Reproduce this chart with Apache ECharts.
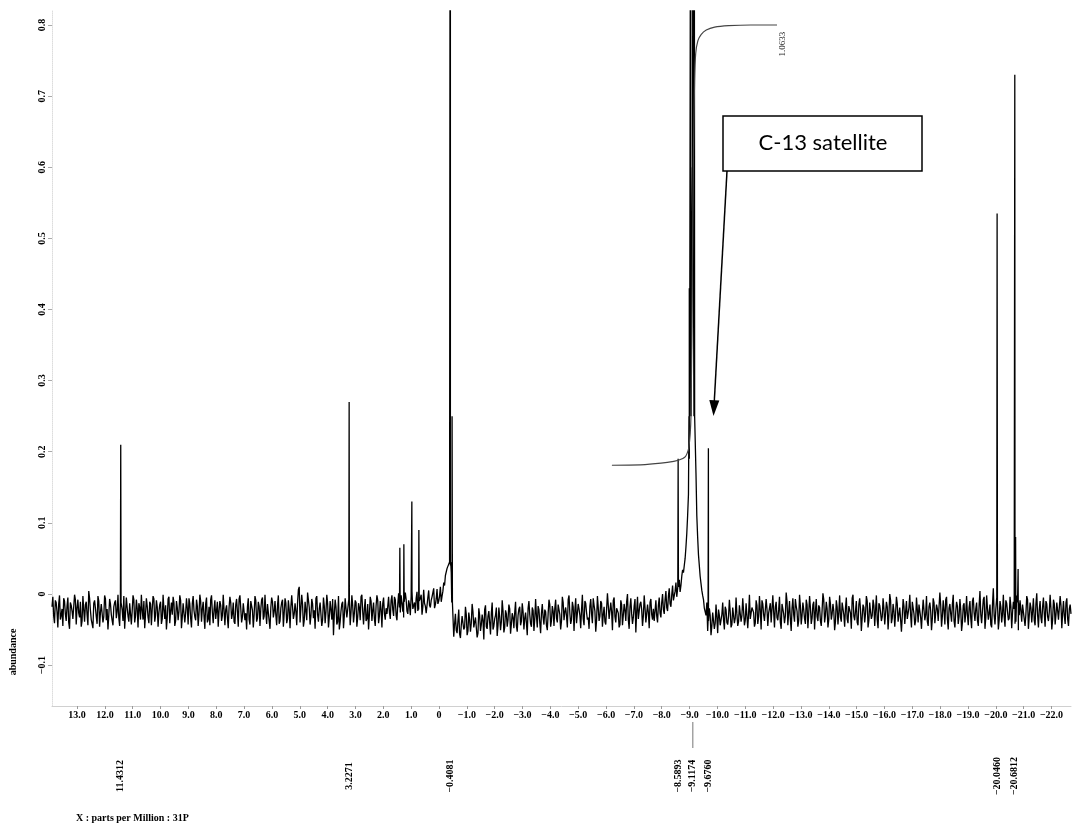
<!DOCTYPE html>
<html><head><meta charset="utf-8">
<script src="https://cdn.jsdelivr.net/npm/echarts@6/dist/echarts.min.js"></script>
<style>html,body{margin:0;padding:0;background:#fff}#c{width:1073px;height:825px}</style>
</head><body><div id="c"></div>
<script>
// ---- data ----
const baselineStartPpm = 13.9;
const baselineStepPpm = 0.06;
// abundance on the grid 13.9, 13.84, ... , -22.7
const baselineAbundance = [
-.018,-.031,-.009,-.025,-.014,-.036,-.021,-.006,-.028,-.017,-.040,-.012,-.024,-.033,-.008,-.019,-.027,-.011,-.038,-.022,
-.015,-.029,.004,-.023,-.035,-.013,-.020,-.042,-.010,-.026,-.016,-.032,-.007,-.021,-.030,-.014,-.037,-.018,-.009,-.025,
-.034,-.012,-.022,-.003,-.027,-.019,-.039,-.015,-.024,-.008,-.031,-.020,-.013,-.036,-.023,-.010,-.028,-.017,-.041,-.014,
-.021,-.007,-.030,-.018,-.026,-.011,-.035,-.022,-.016,-.033,-.004,-.024,-.029,-.012,-.038,-.019,-.025,-.009,-.032,-.015,
-.027,-.020,-.006,-.034,-.013,-.023,-.037,-.017,-.028,-.010,-.021,-.031,-.014,-.040,-.018,-.008,-.026,-.022,-.035,-.011,
-.024,-.016,-.030,-.002,-.022,-.033,-.019,-.012,-.028,-.039,-.015,-.025,-.007,-.020,-.032,-.013,-.027,-.018,-.036,-.010,
-.023,-.029,-.009,-.034,-.017,-.021,-.005,-.031,-.026,-.014,-.038,-.019,-.011,-.025,-.030,-.016,-.042,-.020,-.008,-.027,
-.013,-.035,-.022,-.018,-.001,-.028,-.024,-.012,.010,-.020,-.015,-.037,-.009,.002,-.019,-.031,-.014,-.023,-.006,-.029,
-.021,-.010,-.036,-.017,-.025,-.013,-.032,-.022,-.007,-.028,-.018,-.039,-.050,-.024,-.011,-.030,-.020,-.034,-.008,-.026,
-.016,-.027,-.012,-.033,-.019,-.004,-.025,-.021,-.038,-.014,-.029,-.010,-.023,-.035,-.017,-.009,-.031,-.022,-.013,-.028,
-.020,
-.017,-.026,-.009,-.022,-.004,-.030,-.014,-.019,-.002,-.025,-.011,-.008,-.028,-.015,-.003,-.021,-.012,-.006,-.024,-.010,
-.001,-.018,-.013,-.027,-.005,-.016,-.009,.002,-.020,-.007,-.014,-.003,-.011,.004,.012,.024,.038,
.045,.030,-.012,
-.042,-.051,-.038,-.056,-.044,-.033,-.047,-.029,-.052,-.036,-.041,-.025,-.048,-.034,-.055,-.030,-.043,-.037,-.022,-.046,
-.031,-.040,-.027,-.050,-.035,-.019,-.044,-.032,-.039,-.024,-.047,-.028,-.036,-.021,-.042,-.033,-.026,-.045,-.030,-.018,
-.038,-.025,-.034,-.041,-.020,-.029,-.046,-.023,-.035,-.031,-.017,-.040,-.027,-.033,-.022,-.044,-.028,-.015,-.037,-.024,
-.020,-.034,-.015,-.029,-.038,-.012,-.025,-.031,-.008,-.027,-.036,-.018,-.023,-.041,-.014,-.030,-.022,-.035,-.010,-.026,
-.033,-.017,-.028,-.006,-.024,-.037,-.019,-.031,-.013,-.029,-.039,-.021,-.016,-.034,-.025,-.009,-.032,-.020,-.027,-.043,
-.015,-.030,-.023,-.011,-.036,-.018,-.028,-.033,-.007,-.025,-.035,-.014,-.022,-.031,-.019,-.040,-.026,-.012,-.029,-.021,
-.024,-.031,-.016,-.027,-.012,-.022,-.008,-.019,-.003,-.014,-.001,-.009,.004,-.004,.010,.003,.025,.030,.050,.085,.140,.250,.450,
.600,.250,.110,.055,.025,.005,-.008,-.018,-.012,
-.038,-.030,-.045,-.027,-.041,-.033,-.022,-.044,-.029,-.036,-.018,-.040,-.031,-.025,-.043,-.020,-.034,-.028,-.039,-.015,
-.030,-.024,-.037,-.012,-.028,-.035,-.019,-.026,-.041,-.016,-.032,-.023,-.009,-.029,-.036,-.021,-.027,-.013,-.038,-.025,
-.018,-.033,-.022,-.040,-.014,-.028,-.031,-.010,-.026,-.035,-.020,-.029,-.007,-.024,-.037,-.017,-.030,-.022,-.042,-.015,
-.027,-.019,-.034,-.011,-.025,-.032,-.016,-.038,-.023,-.008,-.030,-.021,-.036,-.014,-.028,-.024,-.039,-.018,-.026,-.033,
-.012,-.029,-.020,-.035,-.017,-.027,-.006,-.031,-.024,-.040,-.015,-.022,-.033,-.019,-.028,-.010,-.037,-.025,-.030,-.016,
-.023,-.036,-.013,-.026,-.032,-.020,-.041,-.018,-.029,-.009,-.034,-.024,-.027,-.014,-.038,-.021,-.031,-.017,-.025,-.035,
-.019,-.030,-.011,-.028,-.037,-.022,-.015,-.033,-.026,-.007,-.029,-.039,-.018,-.024,-.034,-.012,-.027,-.021,-.036,-.016,
-.031,-.023,-.008,-.035,-.020,-.028,-.014,-.038,-.025,-.017,-.032,-.022,-.040,-.013,-.027,-.030,-.019,-.034,-.010,-.026,
-.021,-.037,-.016,-.029,-.024,-.004,-.033,-.020,-.027,-.043,-.015,-.030,-.022,-.011,-.036,-.018,-.028,-.032,-.009,-.025,
-.034,-.017,-.026,-.021,-.039,-.012,-.030,-.023,-.015,-.035,-.028,-.008,-.031,-.019,-.024,-.037,-.014,-.029,-.022,-.033,
-.018,-.027,-.010,-.032,-.025,-.020,-.036,-.014,-.029,-.023,-.038,-.016,-.026,-.031,-.012,-.035,-.021,-.028
];
// abundance half-way between those grid points (13.87, 13.81, ... , -22.67)
const midAbundance = [
-.004,-.041,-.012,-.047,-.002,-.030,-.045,-.010,-.038,-.005,-.049,-.016,-.035,-.001,-.043,-.008,-.033,-.046,-.003,-.039,
-.011,-.044,-.006,-.036,-.048,-.009,-.032,-.003,-.046,-.014,-.040,-.002,-.037,-.050,-.007,-.029,-.044,-.012,-.034,-.001,
-.045,-.010,-.038,-.049,-.005,-.031,-.013,-.043,-.002,-.040,-.008,-.047,-.019,-.001,-.036,-.048,-.006,-.033,-.011,-.044,
-.003,-.039,-.009,-.046,-.015,-.042,-.001,-.035,-.050,-.007,-.041,-.012,-.004,-.045,-.010,-.037,-.002,-.048,-.013,-.040,
-.006,-.043,-.014,-.047,-.003,-.032,-.008,-.045,-.001,-.039,-.011,-.049,-.005,-.036,-.044,-.002,-.041,-.009,-.034,-.046,
-.010,-.038,-.001,-.044,-.016,-.048,-.004,-.035,-.012,-.042,-.007,-.046,-.002,-.040,-.013,-.037,-.050,-.006,-.043,-.009,
-.047,-.003,-.039,-.011,-.045,-.008,-.036,-.001,-.042,-.014,-.049,-.005,-.033,-.010,-.044,-.002,-.038,-.012,-.046,-.006,
-.041,-.009,-.048,-.002,-.035,-.013,-.044,.006,-.040,-.001,-.046,-.011,-.037,.004,-.043,-.007,-.034,-.049,-.003,-.039,
-.012,-.045,-.005,-.041,-.001,-.047,-.010,-.036,-.058,-.008,-.043,-.003,-.039,-.014,-.048,-.006,-.033,-.011,-.044,-.002,
-.040,-.009,-.046,-.013,-.037,-.001,-.043,-.007,-.035,-.050,-.004,-.038,-.012,-.045,-.002,-.041,-.010,-.047,-.005,-.036,
-.028,-.004,-.035,-.002,-.031,-.008,-.037,.001,-.026,-.012,-.033,.002,-.024,-.009,-.030,.004,-.020,-.027,.003,-.022,
-.006,-.029,.006,-.017,-.025,.005,-.019,-.004,.008,-.015,.007,-.010,.010,-.003,.016,.026,.036,
.042,.040,.005,
-.060,-.028,-.055,-.022,-.062,-.031,-.050,-.018,-.058,-.026,-.053,-.014,-.047,-.033,-.061,-.020,-.052,-.029,-.064,-.016,
-.049,-.024,-.057,-.012,-.045,-.030,-.059,-.019,-.051,-.009,-.054,-.023,-.046,-.015,-.056,-.027,-.048,-.011,-.053,-.021,
-.044,-.013,-.050,-.026,-.058,-.010,-.042,-.019,-.052,-.007,-.047,-.022,-.055,-.014,-.043,-.025,-.051,-.008,-.046,-.017,
-.045,-.008,-.040,-.015,-.050,-.004,-.037,-.019,-.047,-.002,-.042,-.011,-.052,-.006,-.039,-.021,-.048,-.001,-.044,-.013,
-.036,-.049,-.007,-.041,-.016,-.053,-.003,-.038,-.010,-.046,-.018,-.043,.001,-.035,-.012,-.051,-.005,-.040,-.020,-.047,
-.009,-.044,-.014,-.038,.000,-.049,-.006,-.042,-.017,-.054,-.004,-.037,-.011,-.045,-.002,-.040,-.015,-.048,-.007,-.036,
-.038,-.009,-.040,-.005,-.033,.000,-.028,.004,-.024,.008,-.018,.012,-.010,.016,-.002,.020,.012,.034,.040,.066,.110,.190,.330,
.540,.400,.170,.080,.040,.015,-.002,-.020,-.030,
-.052,-.020,-.058,-.026,-.049,-.015,-.055,-.030,-.046,-.012,-.050,-.022,-.043,-.008,-.047,-.019,-.041,-.005,-.045,-.016,
-.039,-.006,-.044,-.013,-.048,-.001,-.036,-.018,-.046,-.009,-.042,-.003,-.050,-.014,-.038,-.007,-.045,-.020,-.040,-.002,
-.047,-.011,-.037,-.004,-.049,-.016,-.041,.002,-.044,-.010,-.052,-.006,-.039,-.017,-.046,-.001,-.043,-.012,-.035,-.008,
-.048,-.003,-.042,-.015,-.050,-.007,-.038,-.019,-.045,.001,-.040,-.011,-.047,-.004,-.036,-.014,-.051,-.009,-.043,-.002,
-.039,-.013,-.046,-.005,-.041,-.018,-.049,-.001,-.037,-.010,-.044,-.006,-.052,-.015,-.040,-.003,-.047,-.012,-.035,-.008,
-.045,-.002,-.048,-.016,-.038,-.006,-.043,-.011,-.050,.000,-.041,-.014,-.046,-.004,-.039,-.019,-.053,-.007,-.042,-.010,
-.036,-.001,-.047,-.013,-.044,-.005,-.040,-.017,-.049,-.008,-.037,-.003,-.045,-.012,-.051,-.006,-.041,-.015,-.038,.002,
-.046,-.009,-.043,-.004,-.050,-.014,-.039,-.001,-.047,-.011,-.042,-.007,-.052,-.016,-.040,-.003,-.044,-.010,-.048,-.005,
-.038,-.012,-.045,.004,-.041,-.008,-.049,-.002,-.036,-.015,-.047,.008,-.043,-.006,-.050,-.010,-.040,-.001,-.046,-.013,
-.037,-.004,-.048,-.011,-.042,-.002,-.051,-.009,-.039,-.016,-.045,-.003,-.049,-.012,-.040,-.006,-.044,.001,-.047,-.010,
-.041,-.005,-.046,-.014,-.038,-.001,-.050,-.008,-.043,-.012,-.036,-.003,-.048,-.010,-.042,-.006,-.045,-.015
];
const peakPpm    = [11.4312, 3.2271, 1.406, 1.262, 0.975, 0.723, -0.4081, -0.47, -8.5893, -8.99, -9.04, -9.1174, -9.17, -9.6760, -20.0460, -20.6812, -20.71, -20.80];
const peakHeight = [0.21,    0.27,   0.065, 0.07,  0.13,  0.09,  1.6,     0.25,  0.19,    0.43,  1.2,   1.6,     1.1,   0.205,   0.535,    0.73,     0.08,   0.035];
const integralPpm   = [-6.21, -7.4, -8.2, -8.6, -8.85, -8.97, -9.05, -9.1, -9.14, -9.18, -9.22, -9.3, -9.42, -9.6, -9.9, -10.4, -11.2, -12.14];
const integralValue = [0.181, 0.182, 0.185, 0.188, 0.193, 0.205, 0.25, 0.45, 0.62, 0.72, 0.76, 0.778, 0.787, 0.793, 0.797, 0.799, 0.8, 0.8];
const integralLabel = '1.0633';
const xTickValues = [13,12,11,10,9,8,7,6,5,4,3,2,1,0,-1,-2,-3,-4,-5,-6,-7,-8,-9,-10,-11,-12,-13,-14,-15,-16,-17,-18,-19,-20,-21,-22];
const yTickValues = [-0.1,0,0.1,0.2,0.3,0.4,0.5,0.6,0.7,0.8];
const peakLabelPpm  = [11.4312, 3.2271, -0.4081, -8.5893, -9.1174, -9.6760, -20.0460, -20.6812];
const peakLabelText = ['11.4312','3.2271','\u22120.4081','\u22128.5893','\u22129.1174','\u22129.6760','\u221220.0460','\u221220.6812'];
const yAxisTitle = 'abundance';
const xAxisTitle = 'X : parts per Million : 31P';
const annotationText = 'C-13 satellite';

// ---- build spectrum ----
const spectrum = baselineAbundance.map((v, i) => [+(baselineStartPpm - i * baselineStepPpm).toFixed(4), v]);
midAbundance.forEach((v, j) => spectrum.push([+(baselineStartPpm - (j + 0.5) * baselineStepPpm).toFixed(4), v]));
peakPpm.forEach((p, k) => {
  let idx = Math.round((baselineStartPpm - p) / baselineStepPpm);
  idx = Math.min(Math.max(idx, 0), baselineAbundance.length - 1);
  const base = baselineAbundance[idx];
  spectrum.push([p + 0.012, base], [p, peakHeight[k]], [p - 0.012, base]);
});
spectrum.sort((a, b) => b[0] - a[0]);
const integral = integralPpm.map((p, i) => [p, integralValue[i]]);

const SERIF = '"Liberation Serif", "DejaVu Serif", serif';
const fmt = v => {
  if (Math.abs(v) < 1e-9) return '0';
  return (v < 0 ? '\u2212' : '') + Math.abs(v).toFixed(1);
};
const fmtY = v => {
  if (Math.abs(v) < 1e-9) return '0';
  return (v < 0 ? '\u2212' : '') + (+Math.abs(v).toFixed(1)).toString();
};

const chart = echarts.init(document.getElementById('c'), null, {renderer: 'canvas'});
chart.setOption({
  animation: false,
  backgroundColor: '#fff',
  grid: {left: 52, right: 2, top: 11, bottom: 119, containLabel: false},
  xAxis: {
    type: 'value', inverse: true, min: -22.7, max: 13.9,
    axisLine: {show: true, onZero: false, lineStyle: {color: '#d0d0d0', width: 1}},
    axisTick: {show: true, customValues: xTickValues, length: 3, lineStyle: {color: '#9a9a9a'}},
    axisLabel: {show: true, customValues: xTickValues, formatter: fmt, margin: 4,
      fontFamily: SERIF, fontWeight: 'bold', fontSize: 10, color: '#000'},
    splitLine: {show: false}
  },
  yAxis: {
    type: 'value', min: -0.1575, max: 0.8197,
    axisLine: {show: true, onZero: false, lineStyle: {color: '#dddddd', width: 1, type: 'dotted'}},
    axisTick: {show: true, customValues: yTickValues, length: 4, lineStyle: {color: '#aaaaaa'}},
    axisLabel: {show: true, customValues: yTickValues, formatter: fmtY, rotate: 90, margin: 5,
      fontFamily: SERIF, fontWeight: 'bold', fontSize: 10, color: '#000'},
    splitLine: {show: false}
  },
  series: [
    {type: 'line', data: spectrum, symbol: 'none', showSymbol: false, clip: true, sampling: null,
      lineStyle: {color: '#000', width: 1.3}, z: 3},
    {type: 'line', data: integral, symbol: 'none', showSymbol: false, clip: true, smooth: 0.2,
      lineStyle: {color: '#444', width: 1.2}, z: 4}
  ]
});

const px = (ppm, v) => chart.convertToPixel({gridIndex: 0}, [ppm, v]);
const g = [];
const txt = (x, y, text, font, rot, align, extra) => ({
  type: 'text', x: x, y: y, rotation: rot || 0, z: 10,
  style: Object.assign({text: text, font: font, fill: '#000', align: align || 'center', verticalAlign: 'middle',
    textAlign: align || 'center', textVerticalAlign: 'middle'}, extra || {})
});
peakLabelPpm.forEach((p, k) => {
  const x = px(p, 0)[0];
  g.push(txt(x, 776, peakLabelText[k], 'bold 10px ' + SERIF, Math.PI / 2));
});
const xm = px(-9.1174, 0)[0];
g.push({type: 'line', shape: {x1: xm, y1: 722, x2: xm, y2: 748}, style: {stroke: '#777', lineWidth: 1}});
const il = px(-12.36, 0.773);
g.push(txt(il[0], il[1], integralLabel, '9px ' + SERIF, Math.PI / 2, 'center', {fill: '#222'}));
g.push(txt(13, 652, yAxisTitle, 'bold 10px ' + SERIF, Math.PI / 2));
g.push(txt(76, 818, xAxisTitle, 'bold 10px ' + SERIF, 0, 'left'));
// annotation box + arrow
g.push({type: 'rect', shape: {x: 723, y: 116, width: 199, height: 55}, style: {fill: '#fff', stroke: '#000', lineWidth: 1.5}, z: 20});
g.push({type: 'text', x: 823, y: 143, z: 21, style: {text: annotationText, font: '22px Lato, "Open Sans", sans-serif', fill: '#000',
  align: 'center', verticalAlign: 'middle', textAlign: 'center', textVerticalAlign: 'middle'}});
g.push({type: 'line', shape: {x1: 727, y1: 171, x2: 714.3, y2: 401}, style: {stroke: '#000', lineWidth: 1.5}, z: 20});
g.push({type: 'polygon', shape: {points: [[713.5, 416], [719.3, 400.5], [709.3, 400]]}, style: {fill: '#000'}, z: 20});
chart.setOption({graphic: {elements: g}});
</script>
</body></html>
